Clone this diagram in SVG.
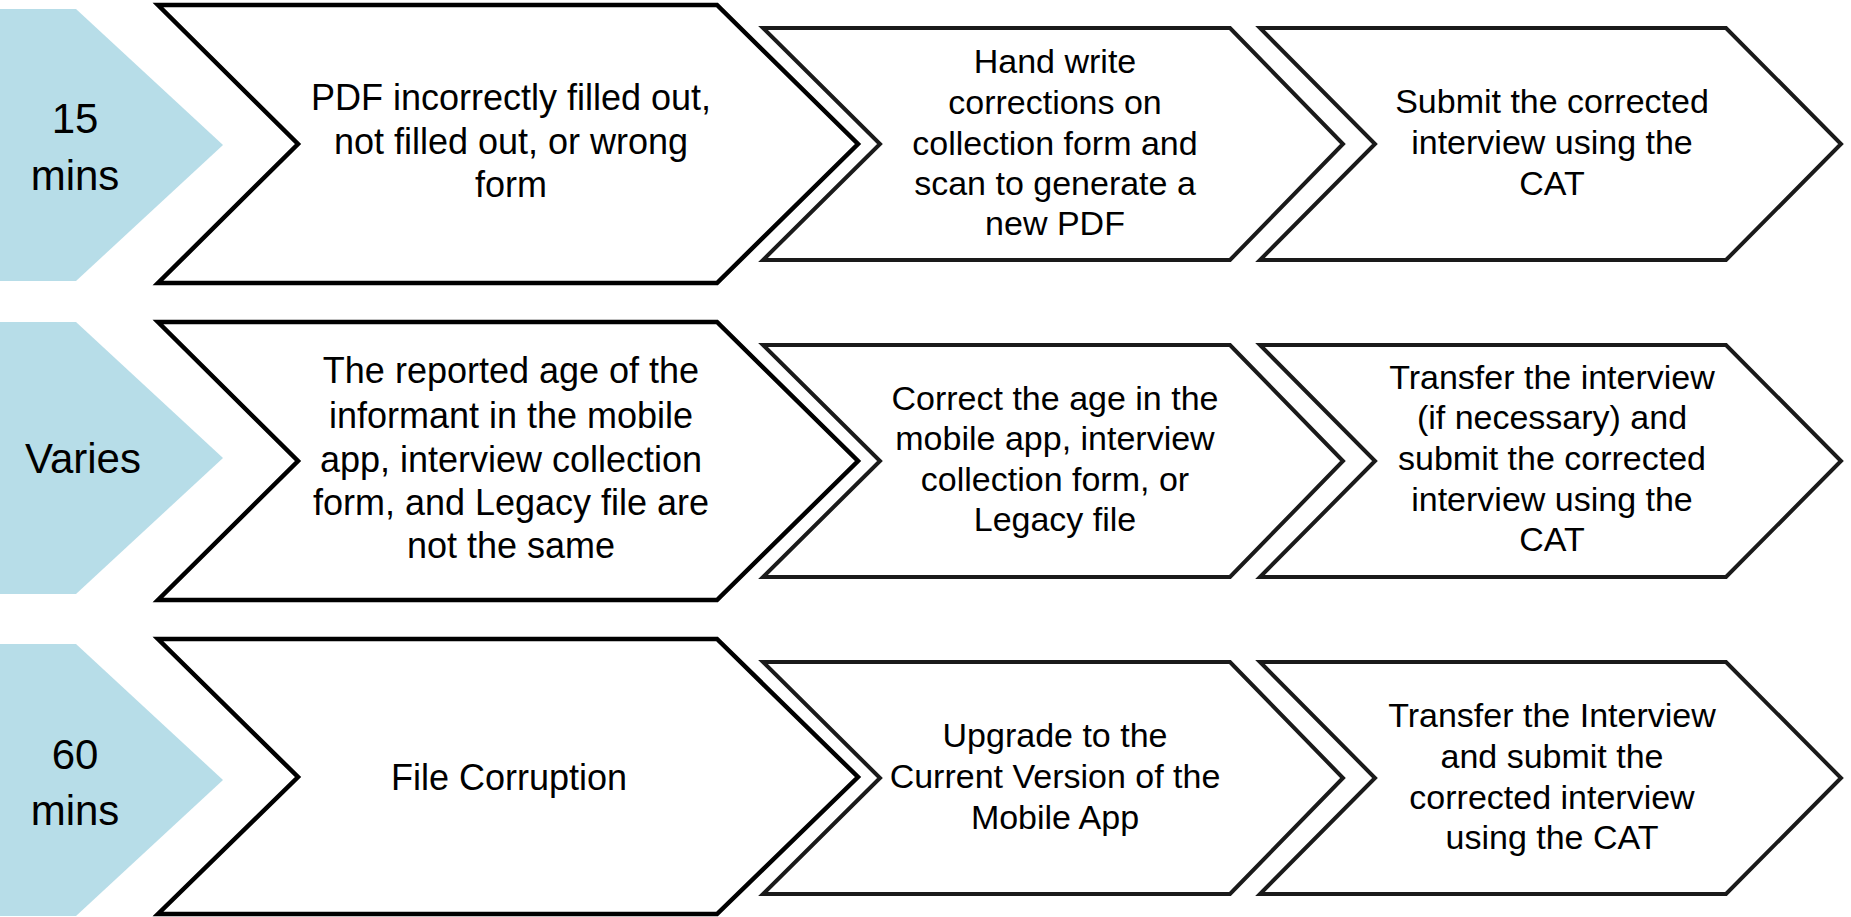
<svg xmlns="http://www.w3.org/2000/svg" width="1851" height="917" viewBox="0 0 1851 917">
<style>
.bg{fill:#ffffff}
.lbl{fill:#B7DDE8;stroke:none}
.c1{fill:#ffffff;stroke:#000000;stroke-width:4.5;stroke-linejoin:miter;stroke-miterlimit:10}
.c2{fill:#ffffff;stroke:#1a1a1a;stroke-width:4;stroke-linejoin:miter;stroke-miterlimit:10}
text{font-family:"Liberation Sans",Arial,sans-serif;fill:#000000;text-anchor:middle}
.t0{font-size:42px}
.t1{font-size:36px}
.t2{font-size:34px}
</style>
<rect class="bg" x="0" y="0" width="1851" height="917"/>

<!-- Row 1 -->
<g id="row1-time">
<polygon class="lbl" points="0,9 76,9 223,145 76,281 0,281"/>
<text class="t0" x="75" y="133">15</text>
<text class="t0" x="75" y="190">mins</text>
</g>
<g id="row1-problem">
<polygon class="c1" points="158,5 717,5 858,144 717,283 158,283 298,144"/>
<text class="t1" x="511" y="110">PDF incorrectly filled out,</text>
<text class="t1" x="511" y="154">not filled out, or wrong</text>
<text class="t1" x="511" y="197">form</text>
</g>
<g id="row1-step1">
<polygon class="c2" points="763,28 1230,28 1343,144 1230,260 763,260 880,144"/>
<text class="t2" x="1055" y="73">Hand write</text>
<text class="t2" x="1055" y="114">corrections on</text>
<text class="t2" x="1055" y="155">collection form and</text>
<text class="t2" x="1055" y="195">scan to generate a</text>
<text class="t2" x="1055" y="235">new PDF</text>
</g>
<g id="row1-step2">
<polygon class="c2" points="1260,28 1726,28 1841,144 1726,260 1260,260 1375,144"/>
<text class="t2" x="1552" y="113">Submit the corrected</text>
<text class="t2" x="1552" y="154">interview using the</text>
<text class="t2" x="1552" y="195">CAT</text>
</g>

<!-- Row 2 -->
<g id="row2-time">
<polygon class="lbl" points="0,322 76,322 223,458 76,594 0,594"/>
<text class="t0" x="83" y="473">Varies</text>
</g>
<g id="row2-problem">
<polygon class="c1" points="158,322 717,322 858,461 717,600 158,600 298,461"/>
<text class="t1" x="511" y="383">The reported age of the</text>
<text class="t1" x="511" y="428">informant in the mobile</text>
<text class="t1" x="511" y="472">app, interview collection</text>
<text class="t1" x="511" y="515">form, and Legacy file are</text>
<text class="t1" x="511" y="558">not the same</text>
</g>
<g id="row2-step1">
<polygon class="c2" points="763,345 1230,345 1343,461 1230,577 763,577 880,461"/>
<text class="t2" x="1055" y="410">Correct the age in the</text>
<text class="t2" x="1055" y="450">mobile app, interview</text>
<text class="t2" x="1055" y="491">collection form, or</text>
<text class="t2" x="1055" y="531">Legacy file</text>
</g>
<g id="row2-step2">
<polygon class="c2" points="1260,345 1726,345 1841,461 1726,577 1260,577 1375,461"/>
<text class="t2" x="1552" y="389">Transfer the interview</text>
<text class="t2" x="1552" y="429">(if necessary) and</text>
<text class="t2" x="1552" y="470">submit the corrected</text>
<text class="t2" x="1552" y="511">interview using the</text>
<text class="t2" x="1552" y="551">CAT</text>
</g>

<!-- Row 3 -->
<g id="row3-time">
<polygon class="lbl" points="0,644 76,644 223,780 76,916 0,916"/>
<text class="t0" x="75" y="769">60</text>
<text class="t0" x="75" y="825">mins</text>
</g>
<g id="row3-problem">
<polygon class="c1" points="158,639 717,639 858,777 717,914 158,914 298,777"/>
<text class="t1" x="509" y="790">File Corruption</text>
</g>
<g id="row3-step1">
<polygon class="c2" points="763,662 1230,662 1343,778 1230,894 763,894 880,778"/>
<text class="t2" x="1055" y="747">Upgrade to the</text>
<text class="t2" x="1055" y="788">Current Version of the</text>
<text class="t2" x="1055" y="829">Mobile App</text>
</g>
<g id="row3-step2">
<polygon class="c2" points="1260,662 1726,662 1841,778 1726,894 1260,894 1375,778"/>
<text class="t2" x="1552" y="727">Transfer the Interview</text>
<text class="t2" x="1552" y="768">and submit the</text>
<text class="t2" x="1552" y="809">corrected interview</text>
<text class="t2" x="1552" y="849">using the CAT</text>
</g>

<g id="connectors"></g>
</svg>
